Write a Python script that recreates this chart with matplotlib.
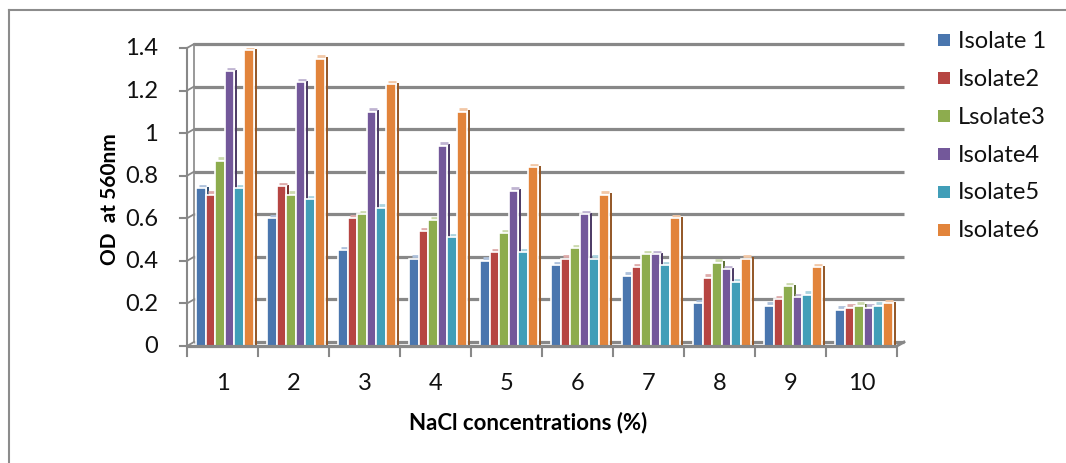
import numpy as np
import matplotlib as mpl
mpl.use('Agg')
import matplotlib.pyplot as plt
from matplotlib.transforms import offset_copy
from matplotlib.lines import Line2D
from matplotlib.patches import Rectangle
from matplotlib.colors import to_rgb

categories = ['1', '2', '3', '4', '5', '6', '7', '8', '9', '10']
series = ['Isolate 1', 'Isolate2', 'Lsolate3', 'Isolate4', 'Isolate5', 'Isolate6']

isolate1 = [0.74, 0.60, 0.45, 0.41, 0.40, 0.38, 0.33, 0.20, 0.19, 0.17]
isolate2 = [0.71, 0.75, 0.60, 0.54, 0.44, 0.41, 0.37, 0.32, 0.22, 0.18]
isolate3 = [0.87, 0.71, 0.62, 0.59, 0.53, 0.46, 0.43, 0.39, 0.28, 0.19]
isolate4 = [1.29, 1.24, 1.10, 0.94, 0.73, 0.62, 0.43, 0.36, 0.23, 0.18]
isolate5 = [0.74, 0.69, 0.65, 0.51, 0.44, 0.41, 0.38, 0.30, 0.24, 0.19]
isolate6 = [1.39, 1.35, 1.23, 1.10, 0.84, 0.71, 0.60, 0.41, 0.37, 0.20]

yticks = [0, 0.2, 0.4, 0.6, 0.8, 1, 1.2, 1.4]
ytick_labels = ['0', '0.2', '0.4', '0.6', '0.8', '1', '1.2', '1.4']

colors = ['#4A76AE', '#B64542', '#8DAC4E', '#73589A', '#419EB8', '#E2843B']

plt.rcParams['font.family'] = ['Lato', 'DejaVu Sans']

W, H = 1066, 464
fig = plt.figure(figsize=(W/100.0, H/100.0), dpi=100)
fig.patch.set_facecolor('white')

# front plane of the plot area, in pixels
x0, x1, y0, y1 = 187, 897, 347, 49
ax = fig.add_axes([x0/W, 1 - y0/H, (x1 - x0)/W, (y0 - y1)/H])
ax.set_xlim(0.5, len(categories) + 0.5)
ax.set_ylim(0, 1.4)
ax.axis('off')

grid = '#888888'
dx, dy = 7, 4
back = offset_copy(ax.transData, fig=fig, x=dx, y=dy, units='dots')
px = 10.0 / (x1 - x0)
py = 1.4 / (y0 - y1)

# back wall gridlines and the wall edge
for v in yticks:
  ax.plot([0.5, 10.5], [v, v], color=grid, lw=2.3, transform=back, zorder=1,
          solid_capstyle='butt', clip_on=False)
ax.plot([0.5, 0.5], [0, 1.4], color=grid, lw=1.2, transform=back, zorder=1, clip_on=False)

# front y axis with ticks bending back to the wall
ax.plot([0.5, 0.5], [0, 1.4], color=grid, lw=1.5, zorder=4, clip_on=False)
for v, lab in zip(yticks, ytick_labels):
  ax.plot([0.5 - 7*px, 0.5], [v, v], color=grid, lw=1.5, zorder=4, clip_on=False)
  ax.plot([0.5, 0.5 + dx*px], [v, v + dy*py], color=grid, lw=1.3, zorder=4, clip_on=False)
  ax.text(0.5 - 29*px, v, lab, ha='right', va='center', fontsize=17, color='#111111')

# floor front edge and category ticks
fx = np.arange(0.5, 11.0, 1.0)
ax.plot([0.5, 10.5], [0, 0], color=grid, lw=2.3, zorder=4, clip_on=False,
        solid_capstyle='butt')
ax.plot([10.5, 10.5 + dx*px], [0, dy*py], color=grid, lw=2.0, zorder=4, clip_on=False)
for x in fx:
  ax.plot([x, x], [0, -10*py], color=grid, lw=1.5, zorder=4, clip_on=False)

data = [isolate1, isolate2, isolate3, isolate4, isolate5, isolate6]
xs = np.arange(1, len(categories) + 1)
bw = 0.134
shift = 0.035
side = offset_copy(ax.transData, fig=fig, x=2, y=1.5, units='dots')
cap = offset_copy(ax.transData, fig=fig, x=1, y=2.5, units='dots')

for i, (vals, c) in enumerate(zip(data, colors)):
  pos = xs + shift + (i - 2.5) * bw
  ax.bar(pos, vals, width=bw, color=c, edgecolor='white', linewidth=1.2, zorder=3)
  dark = tuple(np.array(to_rgb(c)) * 0.65)
  light = tuple(np.array(to_rgb(c)) * 0.45 + 0.55)
  for p, v in zip(pos, vals):
    ax.plot([p + bw/2, p + bw/2], [0, v], color=dark, lw=1.4, transform=side,
            zorder=2, solid_capstyle='butt')
    ax.plot([p - bw/2 + 0.02, p + bw/2 - 0.01], [v, v], color=light, lw=2.0,
            transform=cap, zorder=2, solid_capstyle='butt')

for x, lab in zip(xs, categories):
  ax.text(x, -37*py, lab, ha='center', va='center', fontsize=17, color='#111111')

fig.text(110/W, 1 - 199/H, 'OD  at 560nm', rotation=90, ha='center', va='center',
         fontsize=15, fontweight='bold')
fig.text(528/W, 1 - 423/H, 'NaCl concentrations (%)', ha='center', va='center',
         fontsize=16, fontweight='bold')

# legend
for i, (name, c) in enumerate(zip(series, colors)):
  yc = 41 + i*38
  fig.add_artist(Rectangle((938/W, 1 - (yc + 6)/H), 12/W, 12/H, transform=fig.transFigure,
                           facecolor=c, edgecolor='none'))
  fig.text(958/W, 1 - yc/H, name, ha='left', va='center', fontsize=17, color='#111111')

# outer chart frame
fig.add_artist(Line2D([9/W, 9/W], [0, 1 - 11/H], transform=fig.transFigure, color='#8C8C8C', lw=1.5))
fig.add_artist(Line2D([9/W, 1], [1 - 11/H, 1 - 11/H], transform=fig.transFigure, color='#8C8C8C', lw=1.5))

fig.savefig('out.png', dpi=100, facecolor='white')
